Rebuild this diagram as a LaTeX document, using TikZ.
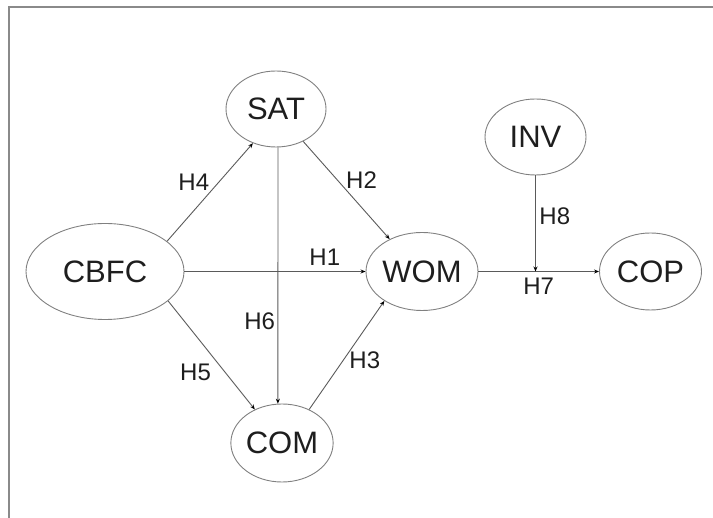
\documentclass[tikz,border=0pt]{standalone}
\usepackage{fontspec}
\setmainfont{Liberation Sans}
\usetikzlibrary{shapes.geometric,arrows.meta}
\definecolor{edgegray}{HTML}{5A5A5A}
\definecolor{ovalgray}{HTML}{808080}
\definecolor{framegray}{HTML}{8A8A8A}
\definecolor{txt}{HTML}{1E1E1E}
\tikzset{
  construct/.style={ellipse, draw=ovalgray, line width=0.9pt, inner sep=0pt,
    text=txt, font=\fontsize{31}{36}\selectfont},
  path/.style={draw=edgegray, line width=0.9pt,
    -{Stealth[length=5pt,width=4pt,color=black]}},
  hyp/.style={inner sep=0pt, text=txt, font=\fontsize{24}{28}\selectfont},
}
\begin{document}
\begin{tikzpicture}[x=1pt,y=-1pt]
\useasboundingbox (0,0) rectangle (713,518);
\draw[framegray, line width=1.5pt] (9,518) -- (9,7) -- (713,7);

\node[construct, minimum width=158pt, minimum height=96pt] (CBFC) at (105,271.5) {CBFC};
\node[construct, minimum width=100pt, minimum height=76pt] (SAT) at (276,109) {SAT};
\node[construct, minimum width=100pt, minimum height=78pt] (COM) at (282,443) {COM};
\node[construct, minimum width=100pt, minimum height=78pt] (WOM) at (422,271.5) {WOM};
\node[construct, minimum width=101pt, minimum height=76pt] (INV) at (535.5,137) {INV};
\node[construct, minimum width=102pt, minimum height=77pt] (COP) at (650.5,271.5) {COP};
\coordinate (mod) at (INV.south |- WOM.east);

\draw[path] (CBFC.east) -- node[hyp, pos=0.775, above=6pt] (h1) {H1} (WOM.west);
\draw[path] (SAT.-50.7) -- node[hyp, pos=0.4, right=8pt] (h2) {H2} (WOM.135);
\draw[path] (COM.51.8) -- node[hyp, pos=0.45, right=6pt] (h3) {H3} (WOM.218);
\draw[path] (CBFC.26.2) -- node[hyp, pos=0.6, left=9pt] (h4) {H4} (SAT.-124.4);
\draw[path] (CBFC.-25.5) -- node[hyp, pos=0.66, left=14pt] (h5) {H5} (COM.129);
\draw[path] (SAT.-87) -- node[hyp, pos=0.68, left=2.5pt] (h6) {H6} (COM.96);
\draw[path] (WOM.east) -- node[hyp, pos=0.5, below=6pt] (h7) {H7} (COP.west);
\draw[path] (INV.south) -- node[hyp, pos=0.42, right=3.5pt] (h8) {H8} (mod);
\end{tikzpicture}
\end{document}
